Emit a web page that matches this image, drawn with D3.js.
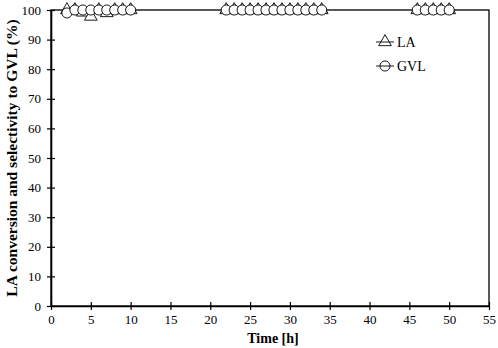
<!DOCTYPE html>
<html><head><meta charset="utf-8">
<script src="https://cdn.jsdelivr.net/npm/d3@7"></script>
<style>body{margin:0;background:#fff}svg{display:block}text{font-family:"Liberation Serif","Times New Roman",serif}</style>
</head><body><svg id="c" width="498" height="348"></svg>
<script>
const timeLA  = [2,3,4,5,6,7,8,9,10, 22,23,24,25,26,27,28,29,30,31,32,33,34, 46,47,48,49,50];
const valueLA = [100,100,99.2,97.8,100,99,100,100,100, 100,100,100,100,100,100,100,100,100,100,100,100,100, 100,100,100,100,100];
const timeGVL  = [2,3,4,5,6,7,8,9,10, 22,23,24,25,26,27,28,29,30,31,32,33,34, 46,47,48,49,50];
const valueGVL = [99,100,100,100,100,100,100,100,100, 100,100,100,100,100,100,100,100,100,100,100,100,100, 100,100,100,100,100];
const xTicks = [0,5,10,15,20,25,30,35,40,45,50,55];
const yTicks = [0,10,20,30,40,50,60,70,80,90,100];
const seriesNames = ["LA","GVL"];

const svg = d3.select("#c");
const m = {l:51, r:9, t:10, b:42};
const W = 498, H = 348;
const x = d3.scaleLinear().domain([0,55]).range([m.l, W-m.r]);
const y = d3.scaleLinear().domain([0,100]).range([H-m.b, m.t]);

svg.append("rect").attr("x",x(0)).attr("y",y(100)).attr("width",x(55)-x(0)).attr("height",y(0)-y(100))
  .attr("fill","none").attr("stroke","#000").attr("stroke-width",1.3);

const xa = svg.append("g").attr("transform",`translate(0,${y(0)})`)
  .call(d3.axisBottom(x).tickValues(xTicks).tickSizeInner(4).tickSizeOuter(0).tickPadding(5));
xa.selectAll(".tick line").attr("y1",-4).attr("y2",4);
const ya = svg.append("g").attr("transform",`translate(${x(0)},0)`)
  .call(d3.axisLeft(y).tickValues(yTicks).tickSizeInner(4).tickSizeOuter(0).tickPadding(6));
ya.selectAll(".tick line").attr("x1",4).attr("x2",-4);
[xa,ya].forEach(a=>{
  a.select(".domain").attr("stroke","#000").attr("stroke-width",1.6);
  a.selectAll(".tick line").attr("stroke","#000").attr("stroke-width",1.2);
  a.selectAll(".tick text").attr("fill","#000").style("font-size","13px").style("font-family","'Liberation Serif',serif");
});

svg.append("text").attr("x",273).attr("y",343).attr("text-anchor","middle")
  .style("font-size","14px").style("font-weight","bold").text("Time [h]");
svg.append("text").attr("transform",`translate(17,${(y(0)+y(100))/2}) rotate(-90)`).attr("text-anchor","middle")
  .style("font-size","15.5px").style("font-weight","bold").text("LA conversion and selectivity to GVL (%)");

const tri = d3.symbol().type(d3.symbolTriangle).size(70);
const circ = d3.symbol().type(d3.symbolCircle).size(80);

svg.append("g").selectAll("path").data(timeLA.map((t,i)=>[t,valueLA[i]])).join("path")
  .attr("d",tri).attr("transform",d=>`translate(${x(d[0])},${y(d[1])})`)
  .attr("fill","#fff").attr("stroke","#000").attr("stroke-width",0.9);
svg.append("g").selectAll("path").data(timeGVL.map((t,i)=>[t,valueGVL[i]])).join("path")
  .attr("d",circ).attr("transform",d=>`translate(${x(d[0])},${y(d[1])})`)
  .attr("fill","#fff").attr("stroke","#000").attr("stroke-width",0.9);

const lg = svg.append("g");
seriesNames.forEach((n,i)=>{
  const ly = 42 + i*24;
  lg.append("line").attr("x1",376).attr("x2",394).attr("y1",ly).attr("y2",ly).attr("stroke","#000").attr("stroke-width",0.9);
  lg.append("path").attr("d", i===0 ? tri : circ).attr("transform",`translate(385,${ly})`)
    .attr("fill","none").attr("stroke","#000").attr("stroke-width",0.9);
  lg.append("text").attr("x",397).attr("y",ly+5).style("font-size","14px").text(n);
});
</script></body></html>
